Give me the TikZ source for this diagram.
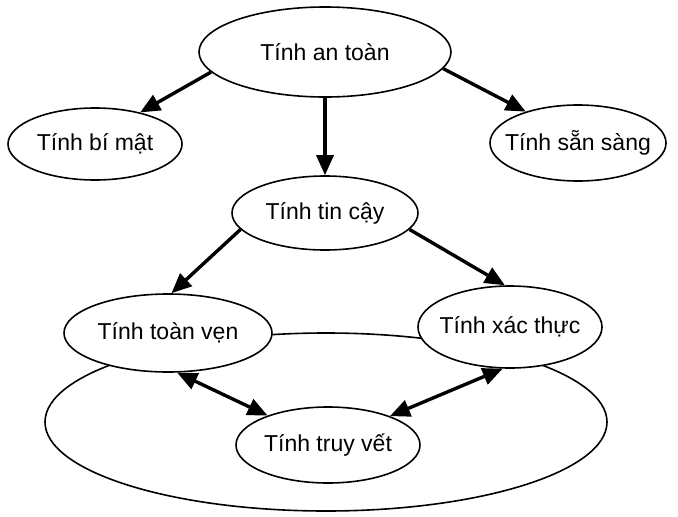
\documentclass[tikz,border=0pt]{standalone}
\usepackage{fontspec}
\setmainfont{Liberation Sans}
\usetikzlibrary{shapes.geometric,arrows.meta}
\begin{document}
\begin{tikzpicture}[x=1pt,y=-1pt,
  bub/.style={ellipse,draw,line width=1.6pt,fill=white,inner xsep=-30pt,inner ysep=-6pt,font=\fontsize{23}{27}\selectfont},
  arr/.style={line width=3.4pt,-{Triangle[length=20pt,width=17pt]}},
  darr/.style={line width=3.4pt,{Triangle[length=20pt,width=17pt]}-{Triangle[length=20pt,width=17pt]}}]
\useasboundingbox (0,0) rectangle (678,517);
\node[ellipse,draw,line width=1.6pt,minimum width=562pt,minimum height=178pt,inner sep=0pt] (big) at (326,422) {};
\node[bub,minimum width=252pt,minimum height=90pt] (at) at (325,52) {Tính an toàn};
\node[bub,minimum width=174pt,minimum height=72pt] (bm) at (95,144) {Tính bí mật};
\node[bub,minimum width=176pt,minimum height=76pt] (ss) at (578,143) {Tính sẵn sàng};
\node[bub,minimum width=186pt,minimum height=74pt] (tc) at (325,213) {Tính tin cậy};
\node[bub,minimum width=208pt,minimum height=78pt] (tv) at (168,333) {Tính toàn vẹn};
\node[bub,minimum width=184pt,minimum height=82pt] (xt) at (510,327) {Tính xác thực};
\node[bub,minimum width=184pt,minimum height=76pt] (vt) at (328,445) {Tính truy vết};
\draw[arr] (at.190) -- (bm.35);
\draw[arr] (at.352) -- (ss.149);
\draw[arr] (at.south) -- (tc.north);
\draw[arr] (tc.191) -- (tv.85);
\draw[arr] (tc.349) -- (xt.97);
\draw[darr] (tv.283) -- (vt.154);
\draw[darr] (xt.260) -- (vt.25);
\end{tikzpicture}
\end{document}
